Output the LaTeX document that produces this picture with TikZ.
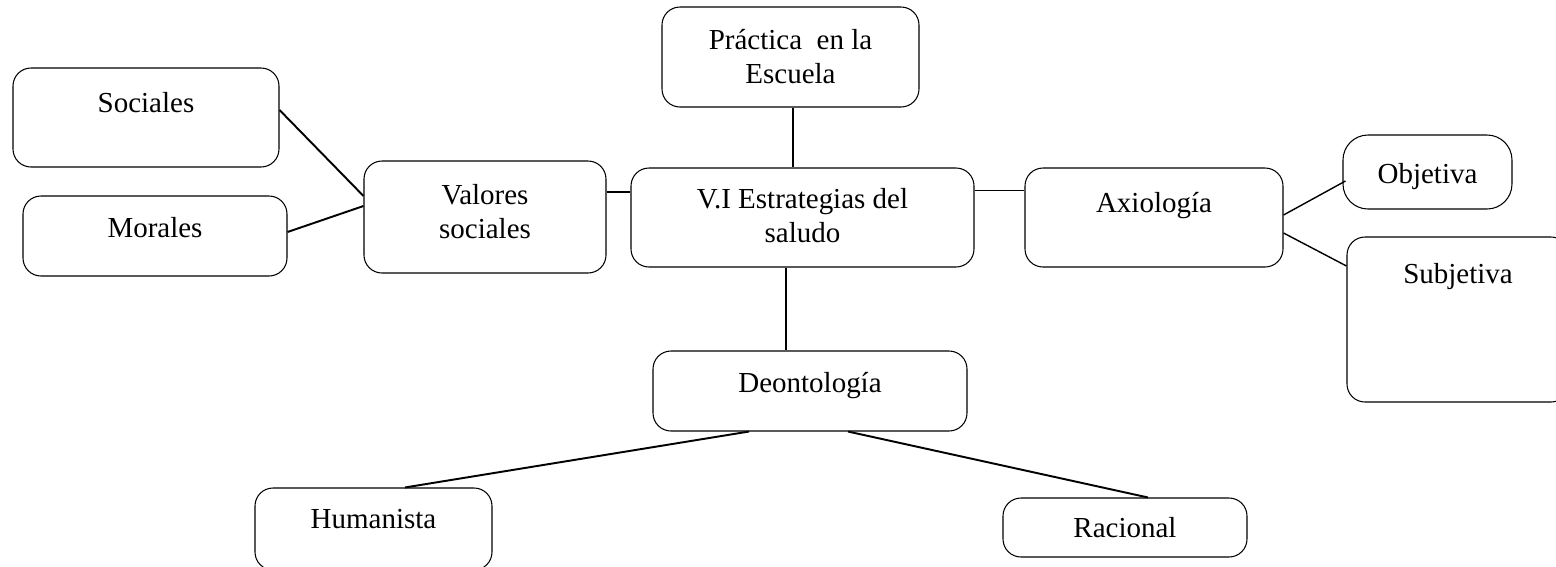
\documentclass[tikz,border=0pt]{standalone}
\usepackage{fontspec}
\setmainfont{Liberation Serif}
\usepackage{tikz}
\usetikzlibrary{calc}

\newlength\pxu
\setlength\pxu{0.02cm}
% box text: width, height, first baseline, text
\newcommand\bxtext[4]{\parbox[c][#2\pxu][t]{#1\pxu}{\centering\rule{0pt}{#3\pxu}#4}}

\tikzset{
  concept/.style={draw, line width=0.6pt, rounded corners=0.36cm, inner sep=0pt,
    font=\fontsize{16.5}{19.9}\selectfont},
  link/.style={line width=0.8pt},
  heavylink/.style={line width=1.1pt}
}

\begin{document}
\begin{tikzpicture}[x=0.02cm, y=-0.02cm]
  \useasboundingbox (0,0) rectangle (1556,566);

  \node[concept] (soc) at (146,117.5) {\bxtext{266}{99}{44}{Sociales}};
  \node[concept] (mor) at (155,236) {\bxtext{264}{80}{41}{Morales}};
  \node[concept] (val) at (485,217) {\bxtext{242}{112}{43}{Valores\\ sociales}};
  \node[concept] (prac) at (790.5,57) {\bxtext{257}{100}{42}{Práctica~ en la\\ Escuela}};
  \node[concept] (vi) at (802.5,217.5) {\bxtext{343}{99}{40}{V.I Estrategias del\\ saludo}};
  \node[concept] (axio) at (1154,217.5) {\bxtext{258}{99}{44}{Axiología}};
  \node[concept, rounded corners=0.5cm] (obj) at (1427.5,172) {\bxtext{169}{74}{48}{Objetiva}};
  \node[concept] (subj) at (1458,319.5) {\bxtext{222}{165}{46}{Subjetiva}};
  \node[concept] (deon) at (810,391) {\bxtext{314}{80}{41}{Deontología}};
  \node[concept] (hum) at (373.5,529) {\bxtext{237}{82}{40}{Humanista}};
  \node[concept] (rac) at (1125,527.5) {\bxtext{244}{59}{39}{Racional}};

  % left branch
  \draw[heavylink] ($(soc.east)+(0,-7.5)$) -- ($(val.west)+(0,-21)$);
  \draw[heavylink] ($(mor.east)+(0,-4)$) -- ($(val.west)+(0,-11)$);
  \draw[link] ($(val.east)+(0,-25)$) -- ($(vi.west)+(0,-25.5)$);

  % top and bottom
  \draw[link] ($(prac.south)+(2.5,0)$) coordinate (p) -- (p |- vi.north);
  \draw[link] ($(vi.south)+(-16.5,0)$) coordinate (q) -- (q |- deon.north);

  % right branch
  \draw[link] ($(vi.east)+(0,-27)$) -- ($(axio.west)+(0,-27)$);
  \draw[link] ($(axio.east)+(0,-2.5)$) -- ($(obj.west)+(3,9)$);
  \draw[link] ($(axio.east)+(0,15.5)$) -- ($(subj.west)+(0,-53.5)$);

  % deontologia
  \draw[heavylink] ($(deon.south)+(-61,0)$) -- ($(hum.north)+(31.5,0)$);
  \draw[heavylink] ($(deon.south)+(38,0)$) -- ($(rac.north)+(23,0)$);
\end{tikzpicture}
\end{document}
